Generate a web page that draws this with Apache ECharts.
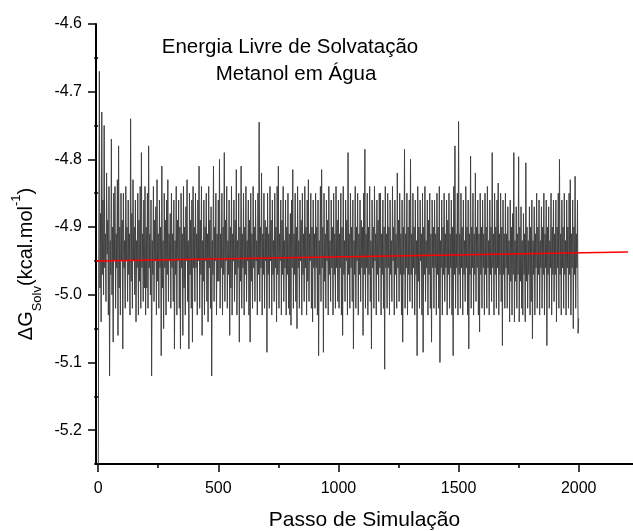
<!DOCTYPE html>
<html><head><meta charset="utf-8">
<script src="https://cdn.jsdelivr.net/npm/echarts@6/dist/echarts.min.js"></script>
<style>html,body{margin:0;padding:0;background:#fff}#c{width:633px;height:531px}</style>
</head><body><div id="c"></div>
<script>
// Simulation step spacing of the sampled values
const stepSize = 2.5;
// ΔG_solv values (kcal/mol), steps 0..497.5
const dG_0000 = [
-5.35,-4.93,-4.67,-4.99,-4.88,-5.04,-4.73,-4.97,-4.86,-5.00,-4.75,-4.96,-4.91,-5.01,-4.82,-4.94,-4.89,-5.03,-4.84,-5.12,-4.92,-4.97,-4.77,-5.00,-4.90,-5.07,-4.85,-4.95,-4.84,-5.02,-4.91,-4.96,-4.83,-5.06,-4.78,-4.99,-4.90,-5.03,-4.85,-4.95,
-4.89,-5.08,-4.85,-4.96,-4.92,-5.02,-4.84,-4.95,-4.90,-5.01,-4.86,-4.97,-4.91,-5.03,-4.74,-4.98,-4.88,-5.02,-4.83,-4.95,-4.90,-5.00,-4.86,-5.04,-4.92,-4.96,-4.85,-5.03,-4.89,-4.98,-4.84,-5.02,-4.79,-4.96,-4.91,-5.01,-4.86,-4.99,-4.84,-5.03,
-4.90,-4.99,-4.85,-5.02,-4.78,-4.96,-4.91,-5.00,-4.86,-5.12,-4.92,-4.97,-4.84,-5.01,-4.89,-4.95,-4.87,-5.03,-4.83,-4.98,-4.91,-5.02,-4.86,-4.96,-4.90,-5.09,-4.81,-4.99,-4.92,-5.05,-4.85,-4.96,-4.89,-5.03,-4.86,-4.97,-4.83,-5.01,-4.91,-4.95,
-4.88,-5.02,-4.85,-4.96,-4.91,-5.01,-4.86,-5.08,-4.92,-4.97,-4.84,-5.03,-4.89,-4.95,-4.86,-5.02,-4.90,-5.08,-4.85,-4.96,-4.91,-5.06,-4.84,-4.99,-4.90,-5.03,-4.87,-4.95,-4.83,-5.01,-4.92,-5.08,-4.85,-4.97,-4.89,-5.02,-4.86,-5.07,-4.84,-4.96,
-4.90,-5.01,-4.85,-4.96,-4.91,-5.03,-4.86,-4.95,-4.81,-5.02,-4.89,-4.97,-4.84,-5.06,-4.92,-4.98,-4.86,-5.03,-4.90,-4.95,-4.85,-5.01,-4.91,-5.04,-4.84,-4.96,-4.89,-5.02,-4.87,-5.12,-4.92,-4.97,-4.81,-5.01,-4.90,-4.95,-4.85,-5.03,-4.91,-4.98
];
// steps 500..997.5
const dG_0500 = [
-4.86,-4.98,-4.80,-5.02,-4.91,-4.96,-4.85,-5.03,-4.90,-4.97,-4.79,-5.01,-4.89,-4.95,-4.84,-5.02,-4.92,-4.97,-4.86,-5.06,-4.90,-4.99,-4.84,-5.03,-4.91,-4.95,-4.86,-5.01,-4.89,-4.97,-4.815,-5.03,-4.92,-4.96,-4.85,-5.07,-4.90,-4.98,-4.81,-5.02,
-4.91,-4.96,-4.85,-5.03,-4.90,-4.97,-4.84,-5.01,-4.92,-4.95,-4.86,-5.03,-4.89,-5.07,-4.85,-4.98,-4.91,-5.02,-4.84,-4.96,-4.90,-5.01,-4.86,-4.95,-4.92,-5.03,-4.85,-4.97,-4.745,-5.01,-4.90,-4.96,-4.82,-5.03,-4.91,-4.97,-4.85,-5.02,-4.89,-4.95,
-4.90,-5.085,-4.85,-4.97,-4.91,-5.02,-4.84,-4.95,-4.89,-5.03,-4.86,-4.97,-4.92,-5.01,-4.85,-4.96,-4.90,-5.04,-4.84,-4.97,-4.81,-5.02,-4.91,-4.95,-4.86,-5.03,-4.89,-4.97,-4.84,-5.01,-4.92,-4.96,-4.86,-5.03,-4.90,-4.97,-4.85,-5.02,-4.91,-5.03,
-4.88,-5.045,-4.86,-4.96,-4.815,-5.02,-4.91,-4.97,-4.85,-5.01,-4.90,-5.05,-4.84,-4.96,-4.92,-5.02,-4.86,-4.95,-4.89,-5.03,-4.85,-4.97,-4.91,-5.01,-4.84,-4.96,-4.90,-5.03,-4.86,-4.98,-4.83,-5.01,-4.91,-4.95,-4.85,-5.02,-4.90,-5.04,-4.86,-4.96,
-4.91,-5.02,-4.85,-4.96,-4.90,-5.03,-4.86,-5.09,-4.92,-4.97,-4.84,-5.01,-4.815,-4.96,-4.90,-5.085,-4.85,-4.98,-4.91,-5.02,-4.86,-4.95,-4.89,-5.03,-4.84,-4.97,-4.92,-5.01,-4.86,-4.96,-4.90,-5.03,-4.85,-4.97,-4.91,-5.02,-4.84,-4.96,-4.89,-5.01
];
// steps 1000..1497.5
const dG_1000 = [
-4.86,-5.02,-4.91,-4.96,-4.85,-5.03,-4.90,-5.06,-4.84,-4.97,-4.92,-5.01,-4.86,-4.95,-4.89,-5.03,-4.79,-4.97,-4.91,-5.02,-4.85,-4.96,-4.90,-5.01,-4.86,-5.08,-4.92,-4.97,-4.84,-5.02,-4.90,-4.95,-4.85,-5.03,-4.91,-4.97,-4.86,-5.01,-4.89,-4.96,
-4.90,-5.06,-4.85,-4.97,-4.785,-5.02,-4.91,-4.96,-4.85,-5.03,-4.90,-4.97,-4.84,-5.01,-4.92,-5.08,-4.86,-4.96,-4.90,-5.02,-4.84,-4.95,-4.91,-5.03,-4.86,-4.97,-4.89,-5.01,-4.85,-4.96,-4.85,-5.03,-4.91,-4.97,-4.86,-5.02,-4.90,-5.11,-4.84,-4.96,
-4.91,-5.02,-4.85,-4.96,-4.90,-5.03,-4.86,-4.97,-4.92,-5.01,-4.84,-4.95,-4.90,-5.03,-4.86,-4.97,-4.91,-5.02,-4.82,-4.96,-4.89,-5.01,-4.85,-4.97,-4.91,-5.03,-4.86,-5.07,-4.90,-4.97,-4.785,-5.02,-4.91,-4.96,-4.85,-5.03,-4.90,-4.97,-4.86,-5.01,
-4.80,-4.97,-4.91,-5.02,-4.85,-4.96,-4.90,-5.03,-4.86,-4.97,-4.92,-5.09,-4.84,-4.98,-4.90,-5.02,-4.86,-4.95,-4.91,-5.03,-4.85,-5.085,-4.90,-4.97,-4.84,-5.01,-4.92,-4.96,-4.86,-5.03,-4.89,-4.97,-4.85,-5.02,-4.91,-5.07,-4.86,-4.96,-4.90,-5.02,
-4.86,-4.96,-4.91,-5.03,-4.85,-4.97,-4.90,-5.02,-4.84,-5.10,-4.92,-4.96,-4.86,-5.03,-4.90,-4.97,-4.85,-5.01,-4.91,-4.96,-4.86,-5.03,-4.89,-4.97,-4.85,-5.02,-4.91,-4.96,-4.86,-5.03,-4.90,-5.09,-4.84,-4.97,-4.78,-5.02,-4.91,-4.96,-4.85,-5.03
];
// steps 1500..2000
const dG_1500 = [
-4.744,-4.97,-4.91,-5.02,-4.85,-4.96,-4.90,-5.03,-4.86,-4.97,-4.92,-5.01,-4.84,-4.96,-4.90,-5.03,-4.86,-5.08,-4.91,-4.97,-4.795,-5.02,-4.90,-4.96,-4.85,-5.03,-4.91,-4.97,-4.82,-5.01,-4.90,-4.96,-4.86,-5.03,-4.91,-5.055,-4.85,-4.97,-4.90,-5.02,
-4.86,-4.96,-4.91,-5.03,-4.85,-4.97,-4.90,-5.02,-4.84,-4.96,-4.92,-5.03,-4.86,-4.97,-4.90,-5.01,-4.79,-4.96,-4.91,-5.03,-4.85,-4.97,-4.90,-5.02,-4.86,-4.96,-4.835,-5.03,-4.91,-4.97,-4.85,-5.01,-4.90,-5.075,-4.86,-4.97,-4.91,-5.02,-4.85,-4.96,
-4.91,-5.02,-4.87,-4.97,-4.92,-5.04,-4.86,-4.98,-4.90,-5.03,-4.88,-4.97,-4.79,-5.04,-4.92,-4.98,-4.87,-5.02,-4.91,-4.97,-4.796,-5.04,-4.90,-4.98,-4.87,-5.02,-4.92,-5.03,-4.88,-4.97,-4.91,-5.04,-4.805,-4.98,-4.90,-5.02,-4.92,-4.97,-4.87,-5.03,
-4.90,-5.01,-4.86,-5.065,-4.92,-4.97,-4.87,-5.03,-4.91,-4.96,-4.85,-5.02,-4.90,-4.97,-4.86,-5.03,-4.92,-4.96,-4.87,-5.02,-4.90,-4.97,-4.85,-5.03,-4.91,-4.96,-4.86,-5.075,-4.90,-4.97,-4.87,-5.02,-4.92,-4.96,-4.85,-5.03,-4.90,-4.97,-4.86,-5.01,
-4.91,-4.97,-4.86,-5.04,-4.90,-4.96,-4.85,-5.02,-4.80,-4.97,-4.91,-5.03,-4.86,-4.96,-4.90,-5.02,-4.85,-4.97,-4.92,-5.03,-4.86,-4.96,-4.90,-5.02,-4.85,-4.97,-4.83,-5.03,-4.91,-4.96,-4.86,-5.05,-4.90,-4.97,-4.825,-5.02,-4.91,-4.96,-4.86,-5.057,
-5.035
];
// Linear fit (red line) end points
const fitX = [-9, 2205];
const fitY = [-4.950, -4.937];
// Tick positions
const xMajorTicks = [0, 500, 1000, 1500, 2000];
const xMinorTicks = [250, 750, 1250, 1750];
const yMajorTicks = [-5.2, -5.1, -5.0, -4.9, -4.8, -4.7, -4.6];
const yMinorTicks = [-5.25, -5.15, -5.05, -4.95, -4.85, -4.75, -4.65];

const values = [].concat(dG_0000, dG_0500, dG_1000, dG_1500);
const seriesData = values.map((v, i) => [i * stepSize, v]);
const fitData = fitX.map((x, i) => [x, fitY[i]]);

const FONT = 'Liberation Sans, Arial, sans-serif';
const chart = echarts.init(document.getElementById('c'), null, {renderer: 'canvas'});
const axisCommon = {
  type: 'value',
  splitLine: {show: false},
  axisLine: {show: true, onZero: false, lineStyle: {color: '#000', width: 2}},
};
chart.setOption({
  animation: false,
  backgroundColor: '#fff',
  grid: {left: 96, right: 0, top: 24, bottom: 67, containLabel: false, outerBoundsMode: 'none'},
  graphic: [
    {type: 'text', x: 290, y: 47, style: {text: 'Energia Livre de Solvatação', font: '20.5px ' + FONT, fill: '#000', align: 'center', verticalAlign: 'middle'}},
    {type: 'text', x: 296, y: 74.5, style: {text: 'Metanol em Água', font: '20.5px ' + FONT, fill: '#000', align: 'center', verticalAlign: 'middle'}}
  ],
  xAxis: [
    Object.assign({}, axisCommon, {
      position: 'bottom',
      min: -9, max: 2226,
      name: 'Passo de Simulação', nameLocation: 'middle', nameGap: 46,
      nameTextStyle: {fontSize: 21, color: '#000', fontFamily: FONT},
      axisTick: {show: true, inside: false, length: 8, customValues: xMajorTicks, lineStyle: {color: '#000', width: 1.5}},
      axisLabel: {show: true, customValues: xMajorTicks, fontSize: 16, color: '#000', fontFamily: FONT, margin: 17,
        formatter: v => String(v)}
    }),
    Object.assign({}, axisCommon, {
      position: 'bottom', offset: 0,
      min: -9, max: 2226,
      axisLine: {show: false},
      axisTick: {show: true, inside: false, length: 4, customValues: xMinorTicks, lineStyle: {color: '#000', width: 1.5}},
      axisLabel: {show: false}
    })
  ],
  yAxis: [
    Object.assign({}, axisCommon, {
      position: 'left',
      min: -5.25, max: -4.6,
      name: '{a|ΔG}{sub|Solv}{a|(kcal.mol}{sup|-1}{a|)}',
      nameLocation: 'middle', nameGap: 45, nameRotate: 90,
      nameTextStyle: {
        color: '#000', fontFamily: FONT, fontSize: 20, padding: [0, 40, 0, 0],
        rich: {
          a: {fontSize: 20, lineHeight: 34, fontFamily: FONT, color: '#000', verticalAlign: 'middle'},
          sub: {fontSize: 13, lineHeight: 13, fontFamily: FONT, color: '#000', verticalAlign: 'bottom'},
          sup: {fontSize: 13, lineHeight: 20, fontFamily: FONT, color: '#000', verticalAlign: 'top'}
        }
      },
      axisTick: {show: true, inside: false, length: 8, customValues: yMajorTicks, lineStyle: {color: '#000', width: 1.5}},
      axisLabel: {show: true, customValues: yMajorTicks, fontSize: 16, color: '#000', fontFamily: FONT, margin: 14,
        formatter: v => Number(v).toFixed(1)}
    }),
    Object.assign({}, axisCommon, {
      position: 'left', offset: 0,
      min: -5.25, max: -4.6,
      axisLine: {show: false},
      axisTick: {show: true, inside: false, length: 4, customValues: yMinorTicks, lineStyle: {color: '#000', width: 1.5}},
      axisLabel: {show: false}
    })
  ],
  series: [
    {type: 'line', name: 'ΔG', xAxisIndex: 0, yAxisIndex: 0, data: seriesData, symbol: 'none', sampling: null,
      lineStyle: {color: '#404040', width: 1}, clip: true, z: 2},
    {type: 'line', name: 'fit', xAxisIndex: 0, yAxisIndex: 0, data: fitData, symbol: 'none',
      lineStyle: {color: '#ff0000', width: 1.5}, z: 5}
  ]
});
</script>
</body></html>
